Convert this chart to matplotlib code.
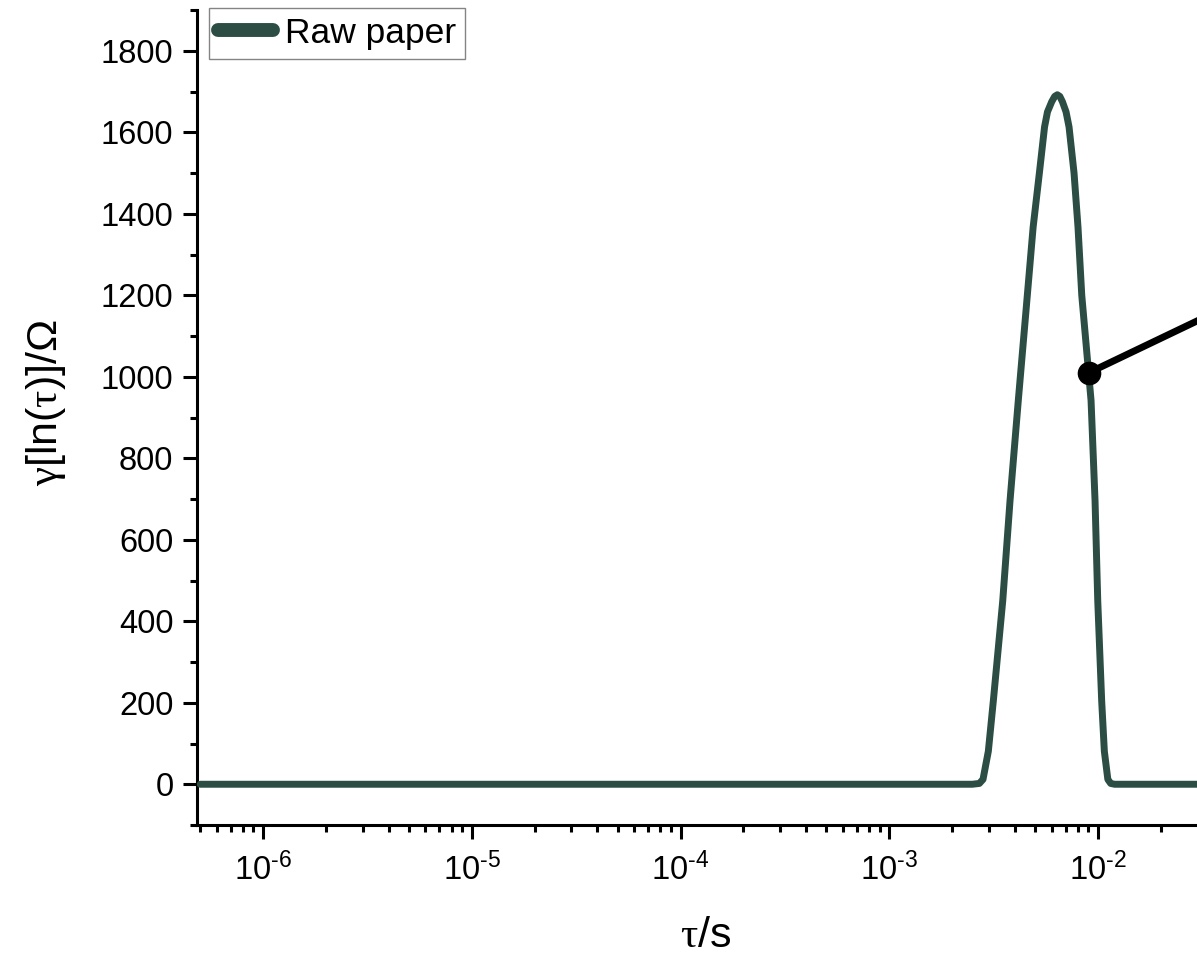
import matplotlib
matplotlib.use("Agg")
import matplotlib.pyplot as plt
from matplotlib.ticker import LogLocator, MultipleLocator, NullFormatter, FuncFormatter
import math

plt.rcParams['font.family'] = ['Liberation Sans', 'DejaVu Sans']
plt.rcParams['mathtext.fontset'] = 'custom'
plt.rcParams['mathtext.rm'] = 'Liberation Serif'
plt.rcParams['mathtext.it'] = 'Liberation Serif'
plt.rcParams['mathtext.sf'] = 'Liberation Sans'
plt.rcParams['mathtext.bf'] = 'Liberation Sans:bold'

# Data
tau = [5.0e-7, 1.0e-6, 1.0e-5, 1.0e-4, 1.0e-3, 2.50e-3, 2.70e-3, 2.812e-3, 2.982e-3,
       3.150e-3, 3.495e-3, 3.788e-3, 4.150e-3, 4.584e-3, 4.887e-3, 5.236e-3,
       5.543e-3, 5.725e-3, 6.0e-3, 6.2e-3, 6.383e-3, 6.56e-3, 6.75e-3,
       7.027e-3, 7.263e-3, 7.674e-3, 8.017e-3,
       8.356e-3, 9.257e-3, 9.674e-3, 9.968e-3, 1.041e-2, 1.072e-2, 1.114e-2,
       1.150e-2, 1.20e-2, 2.0e-2, 1.0e-1]
gamma = [0, 0, 0, 0, 0, 0, 2, 12, 81,
         204, 450, 696, 942, 1200, 1367, 1500,
         1613, 1650, 1675, 1688, 1692, 1688, 1675,
         1650, 1613, 1500, 1367,
         1200, 942, 696, 450, 204, 81, 12,
         2, 0, 0, 0]
series_label = "Raw paper"

marker_point = (9.05e-3, 1010)
pointer_end = (9.29e-2, 1258)

line_color = "#2B4D43"

fig = plt.figure(figsize=(11.97, 9.56), dpi=100)
# axes is cropped at the right edge of the figure, as in the reference
ax = fig.add_axes([197/1197, 131/956, 1000/1197, 815/956])

ax.plot(tau, gamma, color=line_color, lw=5, solid_capstyle='round',
        solid_joinstyle='round', label=series_label, zorder=3)

ax.plot([marker_point[0], pointer_end[0]], [marker_point[1], pointer_end[1]],
        color='black', lw=5, clip_on=False, zorder=4)
ax.plot([marker_point[0]], [marker_point[1]], 'o', color='black', ms=16,
        zorder=5, clip_on=False)

ax.set_xscale('log')
ax.set_xlim(10**-6.316, 10**-1.526)
ax.set_ylim(-100, 1900)


def log_fmt(v, pos):
    e = int(round(math.log10(v)))
    s = str(e).replace('-', '\u2010')
    return r'$\mathsf{10^{%s}}$' % s


ax.xaxis.set_major_locator(LogLocator(base=10, numticks=20))
ax.xaxis.set_major_formatter(FuncFormatter(log_fmt))
ax.xaxis.set_minor_locator(LogLocator(base=10, subs=range(2, 10), numticks=100))
ax.xaxis.set_minor_formatter(NullFormatter())
ax.yaxis.set_major_locator(MultipleLocator(200))
ax.yaxis.set_minor_locator(MultipleLocator(100))

for s in ['top', 'right']:
    ax.spines[s].set_visible(False)
for s in ['left', 'bottom']:
    ax.spines[s].set_linewidth(2.2)

ax.tick_params(which='major', direction='out', length=10, width=2.2,
               labelsize=23.5, pad=7)
ax.tick_params(which='minor', direction='out', length=5, width=2.2)
ax.tick_params(axis='x', which='major', pad=10)

ax.set_xlabel(r'$\tau$/s', fontsize=31)
ax.set_ylabel(r'$\gamma$[ln($\tau$)]/Ω', fontsize=31)
ax.xaxis.set_label_coords(0.509, -0.112)
ax.yaxis.set_label_coords(-0.129, 0.518)

leg = ax.legend(loc='upper left', bbox_to_anchor=(209/1197, (956-8)/956),
                bbox_transform=fig.transFigure, fontsize=25.5, frameon=True,
                fancybox=False, shadow=False, borderpad=0.25, borderaxespad=0,
                handlelength=1.55, handletextpad=0.35)
leg.get_frame().set_edgecolor('#666666')
leg.get_frame().set_linewidth(1.0)
for h in leg.get_lines():
    h.set_linewidth(10)
    h.set_solid_capstyle('round')

fig.savefig('out.png', dpi=100)
